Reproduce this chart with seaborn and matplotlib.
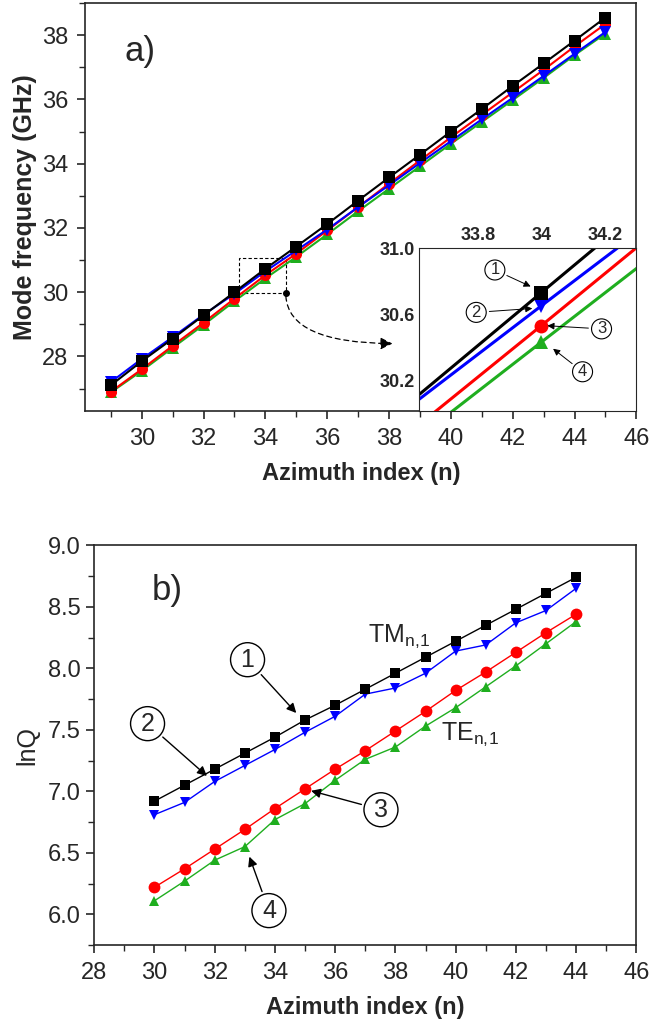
import matplotlib.pyplot as plt
import matplotlib.patches as mpatches
from matplotlib.ticker import MultipleLocator
import seaborn as sns

# ---- data ----
n_freq = [29, 30, 31, 32, 33, 34, 35, 36, 37, 38, 39, 40, 41, 42, 43, 44, 45]
f_tm1 = [27.10, 27.85, 28.55, 29.28, 30.00, 30.73, 31.42, 32.12, 32.85, 33.57,
         34.28, 35.00, 35.70, 36.42, 37.12, 37.83, 38.55]
f_tm2 = [27.20, 27.92, 28.60, 29.30, 29.95, 30.65, 31.30, 31.95, 32.65, 33.33,
         34.02, 34.70, 35.38, 36.05, 36.73, 37.42, 38.10]
f_te1 = [26.90, 27.60, 28.33, 29.05, 29.80, 30.53, 31.20, 31.92, 32.65, 33.38,
         34.10, 34.82, 35.52, 36.22, 36.92, 37.65, 38.35]
f_te2 = [26.88, 27.55, 28.27, 28.98, 29.72, 30.43, 31.10, 31.80, 32.52, 33.22,
         33.92, 34.62, 35.30, 35.98, 36.67, 37.38, 38.05]

# zoomed inset (line segments around n = 34)
inset_n = [33.55, 34.0, 34.35]
inset_tm1 = [30.01, 30.73, 31.29]
inset_tm2 = [29.99, 30.65, 31.16]
inset_te1 = [29.83, 30.53, 31.08]
inset_te2 = [29.76, 30.43, 30.95]

n_q = [30, 31, 32, 33, 34, 35, 36, 37, 38, 39, 40, 41, 42, 43, 44]
q_tm1 = [6.92, 7.05, 7.18, 7.31, 7.44, 7.58, 7.70, 7.83, 7.96, 8.09, 8.22, 8.35, 8.48, 8.61, 8.74]
q_tm2 = [6.81, 6.91, 7.08, 7.21, 7.34, 7.48, 7.61, 7.79, 7.84, 7.96, 8.14, 8.19, 8.37, 8.47, 8.65]
q_te1 = [6.22, 6.37, 6.53, 6.69, 6.86, 7.02, 7.18, 7.33, 7.49, 7.65, 7.82, 7.97, 8.13, 8.29, 8.44]
q_te2 = [6.11, 6.27, 6.44, 6.55, 6.77, 6.90, 7.09, 7.26, 7.36, 7.53, 7.68, 7.85, 8.02, 8.20, 8.38]

GREEN = '#1fae1f'
series = [  # (name, colour, marker), drawn bottom to top
    ('te2', GREEN, '^'),
    ('te1', 'red', 'o'),
    ('tm2', 'blue', 'v'),
    ('tm1', 'black', 's'),
]
freq = {'tm1': f_tm1, 'tm2': f_tm2, 'te1': f_te1, 'te2': f_te2}
inset = {'tm1': inset_tm1, 'tm2': inset_tm2, 'te1': inset_te1, 'te2': inset_te2}
lnq = {'tm1': q_tm1, 'tm2': q_tm2, 'te1': q_te1, 'te2': q_te2}

sns.set_style("ticks")
plt.rcParams['font.family'] = ['Liberation Sans', 'DejaVu Sans']
plt.rcParams['mathtext.default'] = 'regular'
plt.rcParams['axes.linewidth'] = 1.2

fig = plt.figure(figsize=(6.5, 10.25), dpi=100)
ax1 = fig.add_axes([0.131, 0.599, 0.848, 0.398])
ax2 = fig.add_axes([0.145, 0.078, 0.834, 0.390])

# ---- panel a) ----
for key, col, mk in series:
    sns.lineplot(x=n_freq, y=freq[key], ax=ax1, color=col, marker=mk,
                 markersize=8, markeredgewidth=0, linewidth=1.5, errorbar=None)
ax1.set_xlim(28.17, 46)
ax1.set_ylim(26.3, 39.0)
ax1.xaxis.set_major_locator(MultipleLocator(2))
ax1.xaxis.set_minor_locator(MultipleLocator(1))
ax1.yaxis.set_major_locator(MultipleLocator(2))
ax1.yaxis.set_minor_locator(MultipleLocator(1))
ax1.set_xticks(range(30, 47, 2))
ax1.set_ylabel('Mode frequency (GHz)', fontsize=18, fontweight='bold', labelpad=4)
ax1.set_xlabel('Azimuth index (n)', fontsize=17, fontweight='bold', labelpad=9)
ax1.text(29.45, 37.5, 'a)', fontsize=25, va='center', ha='left')

# dashed zoom box and curved arrow toward the inset
zoom_box = (33.15, 29.96, 1.51, 1.09)
ax1.add_patch(mpatches.Rectangle(zoom_box[:2], zoom_box[2], zoom_box[3], fill=False,
                                 linestyle=(0, (3, 2)), linewidth=0.8, color='black'))
box_corner = (zoom_box[0] + zoom_box[2], zoom_box[1])
ax1.plot(*box_corner, 'o', color='black', markersize=4)
ax1.annotate('', xy=(38.2, 28.4), xytext=box_corner,
             arrowprops=dict(arrowstyle='-|>', linestyle=(0, (4, 3)), lw=0.9,
                             color='black', mutation_scale=18,
                             connectionstyle='angle3,angleA=-90,angleB=0'))

# inset
axin = fig.add_axes([0.645, 0.599, 0.334, 0.159])
axin.set_facecolor('white')
for key, col, mk in series:
    sns.lineplot(x=inset_n, y=inset[key], ax=axin, color=col, marker=mk,
                 markevery=[1], markersize=10, markeredgewidth=0, linewidth=2.2,
                 errorbar=None)
axin.set_xlim(33.614, 34.30)
axin.set_ylim(30.012, 30.99)
axin.xaxis.tick_top()
axin.set_xticks([33.8, 34.0, 34.2])
axin.set_xticklabels(['33.8', '34', '34.2'])
axin.set_yticks([30.2, 30.6, 31.0])
axin.set_yticklabels(['30.2', '30.6', '31.0'])
axin.tick_params(length=0, labelsize=13, pad=3)
for lbl in axin.get_xticklabels() + axin.get_yticklabels():
    lbl.set_fontweight('bold')
for sp in axin.spines.values():
    sp.set_linewidth(0.8)

inset_tags = [('1', (33.853, 30.867), (33.974, 30.76)),
              ('2', (33.794, 30.61), (33.98, 30.635)),
              ('3', (34.19, 30.51), (34.01, 30.53)),
              ('4', (34.13, 30.25), (34.03, 30.40))]
for txt, pos, tip in inset_tags:
    axin.annotate(txt, xy=tip, xytext=pos, fontsize=12, ha='center', va='center',
                  bbox=dict(boxstyle='circle,pad=0.15', fc='white', ec='black', lw=0.8),
                  arrowprops=dict(arrowstyle='-|>', lw=0.7, color='black',
                                  mutation_scale=10, shrinkB=2))

# ---- panel b) ----
for key, col, mk in series:
    sns.lineplot(x=n_q, y=lnq[key], ax=ax2, color=col, marker=mk,
                 markersize=7 if mk != 'o' else 8.5, markeredgewidth=0, linewidth=1.0,
                 errorbar=None)
ax2.set_xlim(28, 46)
ax2.set_ylim(5.75, 9.0)
ax2.xaxis.set_major_locator(MultipleLocator(2))
ax2.xaxis.set_minor_locator(MultipleLocator(1))
ax2.yaxis.set_major_locator(MultipleLocator(0.5))
ax2.yaxis.set_minor_locator(MultipleLocator(0.25))
ax2.set_yticks([6.0, 6.5, 7.0, 7.5, 8.0, 8.5, 9.0])
ax2.set_yticklabels(['6.0', '6.5', '7.0', '7.5', '8.0', '8.5', '9.0'])
ax2.set_xlabel('Azimuth index (n)', fontsize=17, fontweight='bold', labelpad=9)
ax2.set_ylabel('lnQ', fontsize=18, labelpad=6)
ax2.text(29.9, 8.63, 'b)', fontsize=25, va='center', ha='left')
ax2.text(37.1, 8.26, r'TM$_{n,\!1}$', fontsize=18, va='center', ha='left')
ax2.text(39.5, 7.46, r'TE$_{n,\!1}$', fontsize=18, va='center', ha='left')

q_tags = [('1', (33.09, 8.07), (34.77, 7.62)),
          ('2', (29.77, 7.55), (31.81, 7.11)),
          ('3', (37.52, 6.85), (35.11, 7.01)),
          ('4', (33.80, 6.03), (33.12, 6.49))]
for txt, pos, tip in q_tags:
    ax2.annotate(txt, xy=tip, xytext=pos, fontsize=18, ha='center', va='center',
                 bbox=dict(boxstyle='circle,pad=0.2', fc='white', ec='black', lw=1.0),
                 arrowprops=dict(arrowstyle='-|>', lw=1.0, color='black',
                                 mutation_scale=14, shrinkB=2))

for ax in (ax1, ax2):
    ax.tick_params(axis='both', which='major', direction='out', length=6, width=1.2,
                   labelsize=17, pad=6, top=False, right=False)
    ax.tick_params(axis='both', which='minor', direction='out', length=4, width=1.0,
                   top=False, right=False)
    for sp in ax.spines.values():
        sp.set_visible(True)
        sp.set_linewidth(1.2)
ax2.tick_params(axis='both', which='major', labelsize=17)
ax2.tick_params(axis='y', which='major', pad=4)

fig.savefig('out.png', dpi=100)
